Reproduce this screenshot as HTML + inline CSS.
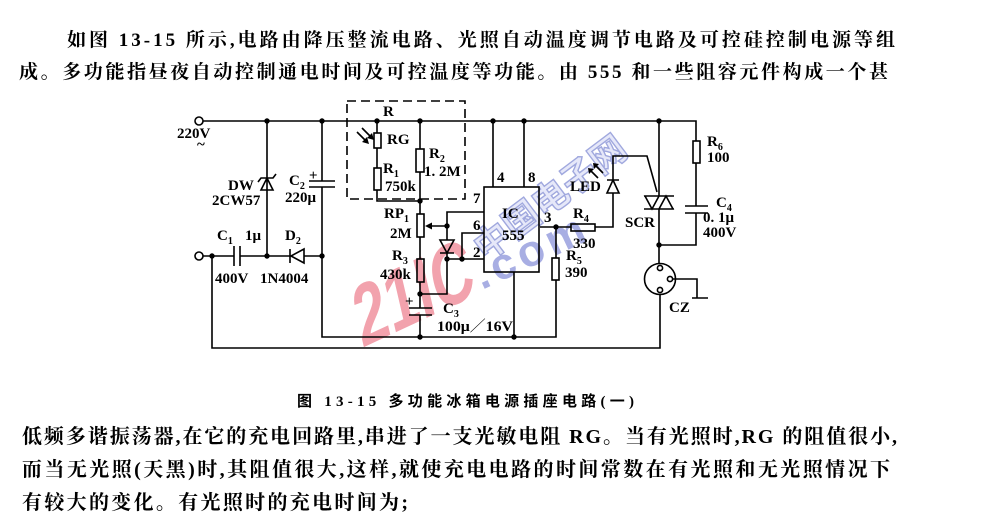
<!DOCTYPE html>
<html><head><meta charset="utf-8"><style>
html,body{margin:0;padding:0;background:#fff;}
svg{display:block;}
.t{font-family:"Liberation Serif","Noto Serif CJK SC",serif;font-size:19px;font-weight:bold;fill:#000;}
.tb{font-family:"Liberation Serif","Noto Serif CJK SC",serif;font-size:20px;font-weight:bold;fill:#000;}
.cap{font-family:"Liberation Serif","Noto Sans CJK SC",sans-serif;font-size:15px;font-weight:bold;fill:#000;}
.l{font-family:"Liberation Serif","Noto Serif CJK SC",serif;font-size:15px;font-weight:bold;fill:#000;}
.s{font-size:10px;}
.w{fill:none;stroke:#000;stroke-width:1.6;stroke-linejoin:miter;}
.d{fill:#000;}
</style></head><body>
<svg width="992" height="520" viewBox="0 0 992 520" xmlns="http://www.w3.org/2000/svg">
<rect width="992" height="520" fill="#fff"/>

<!-- top paragraph -->
<text class="t" x="67" y="46" textLength="828" lengthAdjust="spacing">如图 13-15 所示,电路由降压整流电路、光照自动温度调节电路及可控硅控制电源等组</text>
<text class="t" x="19" y="78" textLength="869" lengthAdjust="spacing">成。多功能指昼夜自动控制通电时间及可控温度等功能。由 555 和一些阻容元件构成一个甚</text>

<!-- watermark -->
<g>
<text x="0" y="0" transform="translate(362,348) rotate(-25) skewX(-12) scale(0.72,1)" font-family="Liberation Sans, sans-serif" font-weight="bold" font-size="84" fill="#f2a2ad">21IC</text>
<text x="0" y="0" transform="translate(482,290) rotate(-25)" font-family="Liberation Sans, sans-serif" font-weight="bold" font-size="44" letter-spacing="5" fill="#a8aee3">.com</text>
<text x="0" y="0" transform="translate(486,262) rotate(-37)" font-family="Noto Sans CJK SC, sans-serif" font-weight="bold" font-size="36" fill="#e6e8f9" stroke="#a0a8de" stroke-width="1.4">中国电子网</text>
</g>

<!-- dashed box -->
<rect x="347" y="101" width="118" height="98" fill="none" stroke="#000" stroke-width="1.6" stroke-dasharray="9,5"/>

<!-- wires -->
<path class="w" d="M203,121 H696 V141 M696,163 V206 M685,206 H708 M685,213 H708 M696,213 V245 H659"/>
<rect class="w" x="693" y="141" width="7" height="22" fill="#fff"/>
<!-- triac -->
<path class="w" d="M659,121 V196 M659,209 V264 M644,196 H674 M644,209 H674 M645,196 L659,196 L652,209 Z M659,209 L673,209 L666,196 Z"/>
<!-- gate / LED -->
<path class="w" d="M595,227 H613 V193 M607,193 H619 L613,180 Z M607,180 H619 M613,180 V156 H647 L657,192"/>
<path class="w" d="M598,178 L590,170 M603,173 L595,165"/>
<path class="d" d="M588,168 L594,169 L589,174 Z M593,163 L599,164 L594,169 Z"/>
<!-- socket -->
<circle class="w" cx="660" cy="279" r="15.5" fill="#fff"/>
<circle class="w" cx="660" cy="268" r="2.6" fill="#fff"/>
<circle class="w" cx="660" cy="290" r="2.6" fill="#fff"/>
<circle class="w" cx="670" cy="279" r="2.6" fill="#fff"/>
<path class="w" d="M673,279 H697 V298 M692,298 H708 M660,295 V348 H212 V256"/>
<!-- input section -->
<path class="w" d="M203,256 H234 M234,246 V266 M240,246 V266 M240,256 H290 M290,249 V263 M291,256 L304,249 L304,263 Z M304,256 H322"/>
<path class="w" d="M267,121 V256 M261,190 H273 L267,178 Z M258,182 L261,178 H273 L276,174"/>
<path class="w" d="M322,121 V181 M309,181 H335 M309,187 H335 M322,187 V337 H556 V280 M556,258 V227 M540,227 H571"/>
<rect class="w" x="552" y="258" width="7" height="22" fill="#fff"/>
<rect class="w" x="571" y="224" width="24" height="7" fill="#fff"/>
<!-- R network -->
<path class="w" d="M377,121 V133 M377,148 V168 M377,190 V201 H420 M420,121 V149 M420,172 V214 M420,237 V259 M420,282 V308 M409,308 H432 M409,315 H432 M420,315 V337"/>
<rect class="w" x="374" y="133" width="7" height="15" fill="#fff"/>
<rect class="w" x="374" y="168" width="7" height="22" fill="#fff"/>
<rect class="w" x="416" y="149" width="8" height="23" fill="#fff"/>
<rect class="w" x="417" y="214" width="7" height="23" fill="#fff"/>
<rect class="w" x="417" y="259" width="7" height="23" fill="#fff"/>
<path class="w" d="M357,132 L366,141 M362,128 L371,137"/>
<path class="d" d="M369,144 L362,142 L367,137 Z M374,140 L367,138 L372,133 Z"/>
<!-- wiper / diode -->
<path class="w" d="M430,226 H447 M447,226 V212 H484 M447,226 V240 M440,240 H454 L447,253 Z M440,253 H454 M447,253 V294 H420 M447,259 H484 M462,259 V233 H484"/>
<path class="d" d="M425,226 L432,222.5 L432,229.5 Z"/>
<!-- IC -->
<rect class="w" x="484" y="187" width="55" height="85" fill="none"/>
<path class="w" d="M493,121 V187 M524,121 V187 M514,272 V337"/>

<!-- terminals -->
<circle class="w" cx="199" cy="121" r="4" fill="#fff"/>
<circle class="w" cx="199" cy="256" r="4" fill="#fff"/>

<!-- junction dots -->
<g class="d">
<circle cx="267" cy="121" r="2.7"/><circle cx="322" cy="121" r="2.7"/><circle cx="377" cy="121" r="2.7"/>
<circle cx="420" cy="121" r="2.7"/><circle cx="493" cy="121" r="2.7"/><circle cx="524" cy="121" r="2.7"/>
<circle cx="659" cy="121" r="2.7"/><circle cx="212" cy="256" r="2.7"/><circle cx="267" cy="256" r="2.7"/>
<circle cx="322" cy="256" r="2.7"/><circle cx="420" cy="201" r="2.7"/><circle cx="447" cy="226" r="2.7"/>
<circle cx="447" cy="259" r="2.7"/><circle cx="462" cy="259" r="2.7"/><circle cx="420" cy="294" r="2.7"/>
<circle cx="420" cy="337" r="2.7"/><circle cx="514" cy="337" r="2.7"/><circle cx="556" cy="227" r="2.7"/>
<circle cx="659" cy="245" r="2.7"/>
</g>

<!-- plus signs -->
<text class="l" x="309" y="180" font-size="16">+</text>
<text class="l" x="405" y="306" font-size="14">+</text>

<!-- labels -->
<text class="l" x="177" y="138">220V</text>
<text class="l" x="197" y="149" font-size="14">~</text>
<text class="l" x="228" y="190">DW</text>
<text class="l" x="212" y="205">2CW57</text>
<text class="l" x="289" y="185">C<tspan class="s" dy="4">2</tspan></text>
<text class="l" x="285" y="202">220μ</text>
<text class="l" x="217" y="240">C<tspan class="s" dy="4">1</tspan></text>
<text class="l" x="245" y="240">1μ</text>
<text class="l" x="285" y="240">D<tspan class="s" dy="4">2</tspan></text>
<text class="l" x="215" y="283">400V</text>
<text class="l" x="260" y="283">1N4004</text>
<text class="l" x="383" y="116">R</text>
<text class="l" x="387" y="144">RG</text>
<text class="l" x="383" y="173">R<tspan class="s" dy="4">1</tspan></text>
<text class="l" x="385" y="191">750k</text>
<text class="l" x="429" y="158">R<tspan class="s" dy="4">2</tspan></text>
<text class="l" x="424" y="176">1. 2M</text>
<text class="l" x="384" y="218">RP<tspan class="s" dy="4">1</tspan></text>
<text class="l" x="390" y="238">2M</text>
<text class="l" x="392" y="260">R<tspan class="s" dy="4">3</tspan></text>
<text class="l" x="380" y="279">430k</text>
<text class="l" x="443" y="313">C<tspan class="s" dy="4">3</tspan></text>
<text class="l" x="437" y="331" textLength="76" lengthAdjust="spacingAndGlyphs">100μ／16V</text>
<text class="l" x="473" y="203">7</text>
<text class="l" x="473" y="230">6</text>
<text class="l" x="473" y="257">2</text>
<text class="l" x="497" y="182">4</text>
<text class="l" x="528" y="182">8</text>
<text class="l" x="502" y="218">IC</text>
<text class="l" x="502" y="240">555</text>
<text class="l" x="544" y="222">3</text>
<text class="l" x="570" y="191">LED</text>
<text class="l" x="573" y="218">R<tspan class="s" dy="4">4</tspan></text>
<text class="l" x="573" y="248">330</text>
<text class="l" x="566" y="260">R<tspan class="s" dy="4">5</tspan></text>
<text class="l" x="565" y="277">390</text>
<text class="l" x="625" y="227">SCR</text>
<text class="l" x="707" y="146">R<tspan class="s" dy="4">6</tspan></text>
<text class="l" x="707" y="162">100</text>
<text class="l" x="716" y="207">C<tspan class="s" dy="4">4</tspan></text>
<text class="l" x="703" y="222">0. 1μ</text>
<text class="l" x="703" y="237">400V</text>
<text class="l" x="669" y="312">CZ</text>

<!-- caption -->
<text class="cap" x="297" y="406" textLength="337" lengthAdjust="spacing">图 13-15  多功能冰箱电源插座电路(一)</text>

<!-- bottom paragraph -->
<text class="tb" x="22" y="443" textLength="875" lengthAdjust="spacing">低频多谐振荡器,在它的充电回路里,串进了一支光敏电阻 RG。当有光照时,RG 的阻值很小,</text>
<text class="tb" x="22" y="476" textLength="868" lengthAdjust="spacing">而当无光照(天黑)时,其阻值很大,这样,就使充电电路的时间常数在有光照和无光照情况下</text>
<text class="tb" x="22" y="509" textLength="386" lengthAdjust="spacing">有较大的变化。有光照时的充电时间为;</text>
</svg>
</body></html>
